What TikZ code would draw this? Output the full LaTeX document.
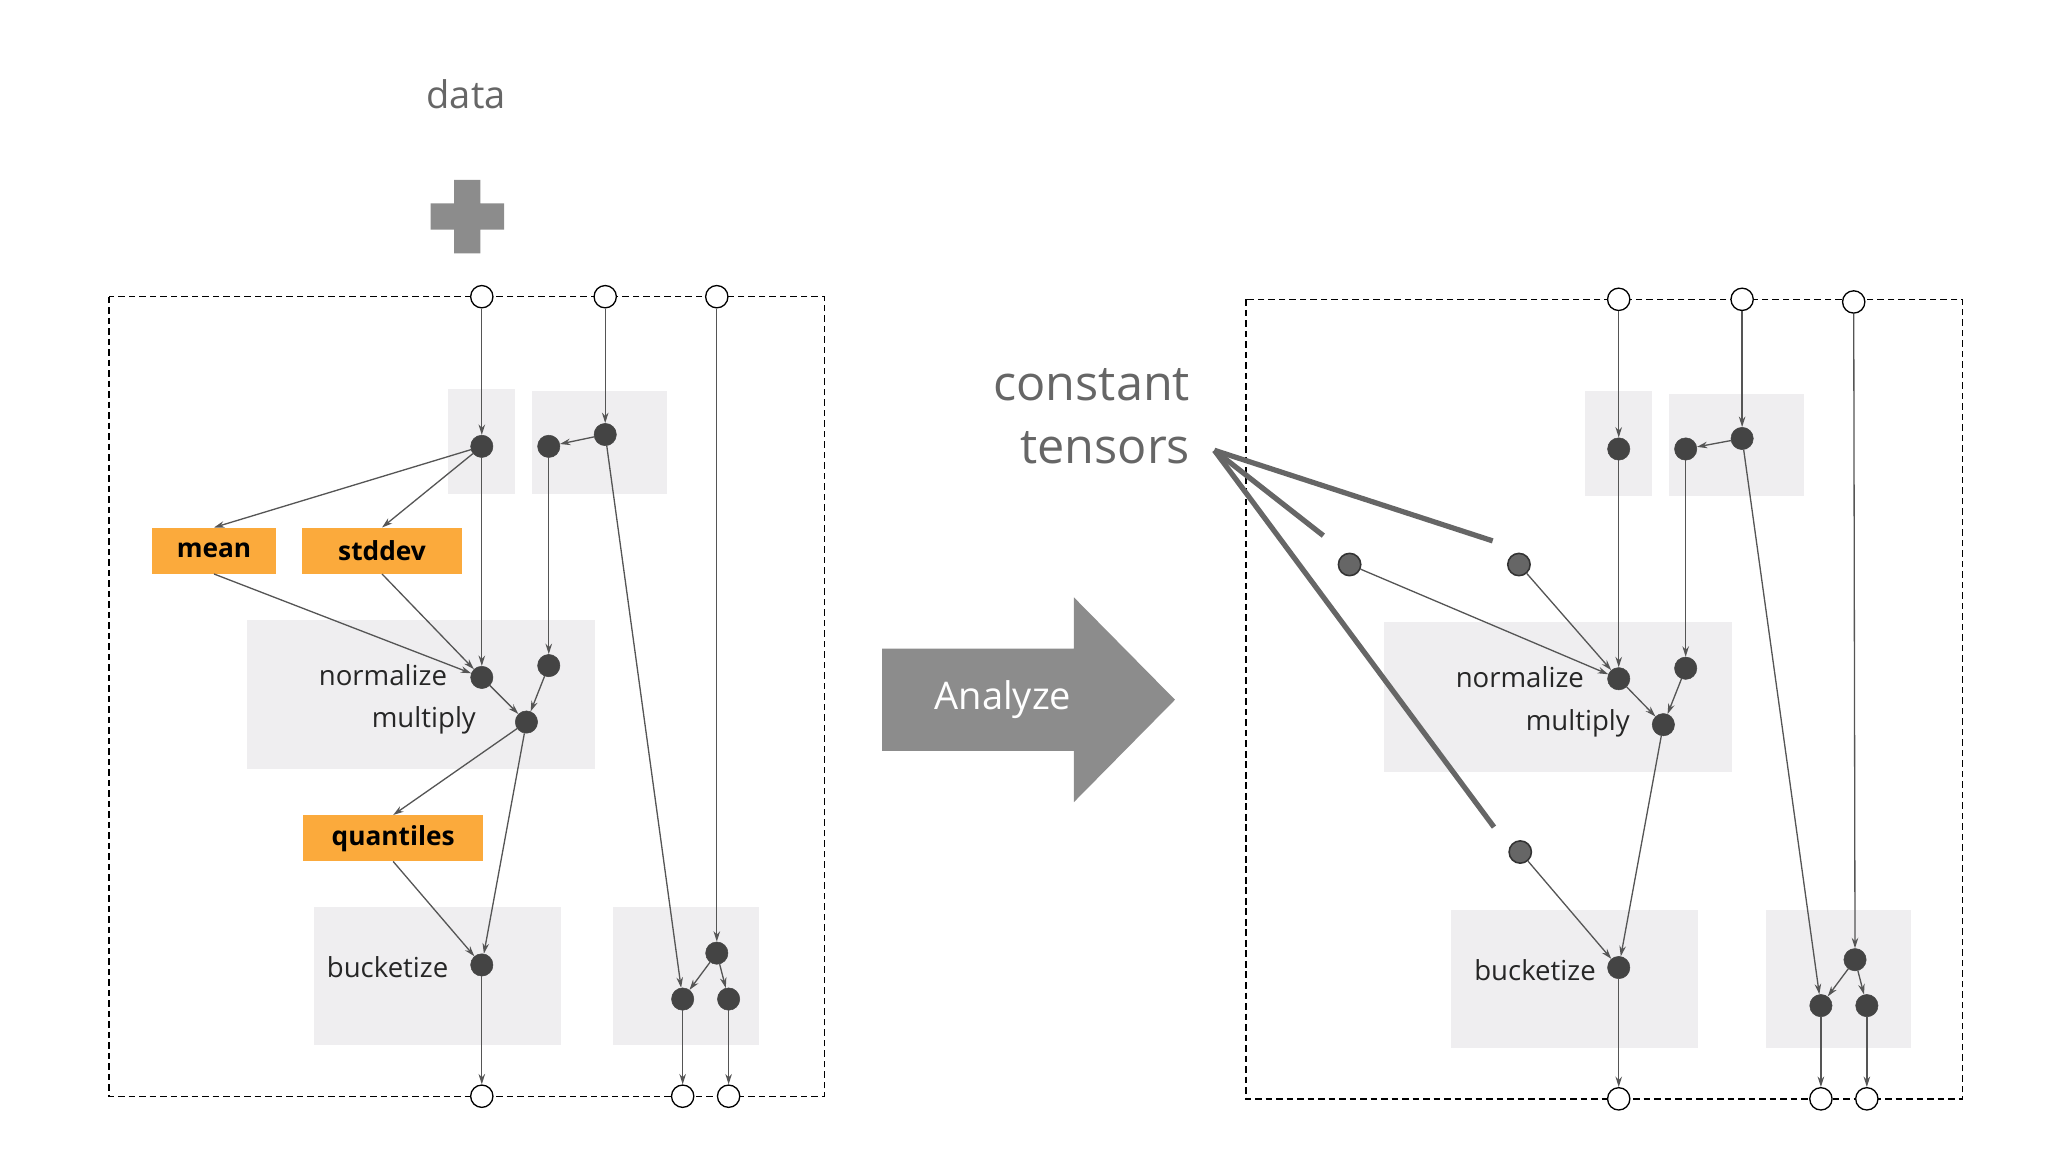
\documentclass[tikz,border=0pt]{standalone}
\usepackage{fontspec}
\setmainfont{Open Sans}
\usetikzlibrary{arrows.meta}
\definecolor{bg}{HTML}{EFEEF0}
\definecolor{org}{HTML}{FBAA3C}
\definecolor{ln}{HTML}{555555}
\definecolor{dk}{HTML}{444444}
\definecolor{tg}{HTML}{666666}
\begin{document}
\begin{tikzpicture}[x=1pt,y=-1pt,
  box/.style={fill=bg,draw=none},
  dot/.style={circle,fill=dk,draw=dk,inner sep=0,minimum size=17pt},
  cdot/.style={circle,fill=tg,draw=black!80,line width=1.2pt,inner sep=0,minimum size=17pt},
  port/.style={circle,fill=white,draw=black,line width=1pt,inner sep=0,minimum size=17pt},
  op/.style={fill=org,font=\fontsize{20}{24}\selectfont\bfseries,inner sep=0,anchor=center},
  lab/.style={font=\fontsize{21}{25}\selectfont,text=black!85},
  ar/.style={draw=ln,line width=1pt,-{Stealth[length=8pt,width=5pt]}},
  frame/.style={draw=black,dashed,line width=1pt,dash pattern=on 5pt off 3pt},
  thick/.style={draw=tg,line width=4pt}]
\useasboundingbox (0,0) rectangle (1560,877.5);
% ---------- left ----------
\node[font=\fontsize{29}{34}\selectfont,text=tg] (data) at (355,72) {data};
\fill[black!45] (346,137) rectangle (366,193) (328,155) rectangle (384,175);
\draw[frame] (83,226) rectangle (628,835);
\foreach \a/\b/\c/\d in {341/296/392/376,405/298/508/376,188/472/453/586,239/691/427/796,467/691/578/796}
  \fill[box] (\a,\b) rectangle (\c,\d);
\node[op,minimum width=94pt,minimum height=35pt] (mean) at (163,419.5) {mean};
\node[op,minimum width=122pt,minimum height=35pt] (std) at (291,419.5) {stddev};
\node[op,minimum width=137pt,minimum height=35pt] (q) at (299.5,638.5) {quantiles};
\node[port] (t1) at (367,226) {}; \node[port] (t2) at (461,226) {}; \node[port] (t3) at (546,226) {};
\node[port] (b1) at (367,835) {}; \node[port] (b2) at (520,835) {}; \node[port] (b3) at (555,835) {};
\node[dot] (A) at (367,340) {}; \node[dot] (B) at (418,340) {}; \node[dot] (C) at (461,331) {};
\node[dot] (D) at (367,516) {}; \node[dot] (E) at (418,507) {}; \node[dot] (F) at (401,550) {};
\node[dot] (G) at (367,735) {}; \node[dot] (H) at (546,726) {}; \node[dot] (I) at (520,761) {}; \node[dot] (J) at (555,761) {};
\node[lab,anchor=east] at (344,514) {normalize};
\node[lab,anchor=east] at (366,549) {multiply};
\node[lab,anchor=east] at (345,737) {bucketize};
\draw[ar] (t1)--(A); \draw[ar] (t2)--(C); \draw[ar] (t3)--(H);
\draw[ar] (C)--(B); \draw[ar] (A)--(mean.north); \draw[ar] (A)--(std.north);
\draw[ar] (B)--(E); \draw[ar] (A)--(D);
\draw[ar] (mean.south)--(D); \draw[ar] (std.south)--(D);
\draw[ar] (D)--(F); \draw[ar] (E)--(F);
\draw[ar] (F)--(q.north); \draw[ar] (q.south)--(G); \draw[ar] (F)--(G);
\draw[ar] (C)--(I); \draw[ar] (H)--(I); \draw[ar] (H)--(J);
\draw[ar] (G)--(b1); \draw[ar] (I)--(b2); \draw[ar] (J)--(b3);
% ---------- arrow ----------
\fill[black!45] (672,494)--(818,494)--(818,455)--(895,533)--(818,611)--(818,572)--(672,572)--cycle;
\node[font=\fontsize{29}{34}\selectfont,text=white] (an) at (764,533) {Analyze};
% ---------- right ----------
\node[font=\fontsize{37}{48}\selectfont,text=tg,align=right,anchor=east] (ct) at (910,317) {constant\\tensors};
\draw[frame] (949,228) rectangle (1495,837);
\foreach \a/\b/\c/\d in {1207/298/1258/378,1271/300/1374/378,1054/474/1319/588,1105/693/1293/798,1345/693/1456/798}
  \fill[box] (\a,\b) rectangle (\c,\d);
\node[port] (rt1) at (1233,228) {}; \node[port] (rt2) at (1327,228) {}; \node[port] (rt3) at (1412,230) {};
\node[port] (rb1) at (1233,837) {}; \node[port] (rb2) at (1387,837) {}; \node[port] (rb3) at (1422,837) {};
\node[dot] (rA) at (1233,342) {}; \node[dot] (rB) at (1284,342) {}; \node[dot] (rC) at (1327,334) {};
\node[dot] (rD) at (1233,517) {}; \node[dot] (rE) at (1284,509) {}; \node[dot] (rF) at (1267,552) {};
\node[dot] (rG) at (1233,737) {}; \node[dot] (rH) at (1413,731) {}; \node[dot] (rI) at (1387,766) {}; \node[dot] (rJ) at (1422,766) {};
\node[cdot] (k1) at (1028,430) {}; \node[cdot] (k2) at (1157,430) {}; \node[cdot] (k3) at (1158,649) {};
\node[lab,anchor=east] at (1210,516) {normalize};
\node[lab,anchor=east] at (1245,551) {multiply};
\node[lab,anchor=east] at (1219,739) {bucketize};
\draw[ar] (rt1)--(rA); \draw[ar] (rt2)--(rC); \draw[ar] (rt3)--(rH);
\draw[ar] (rC)--(rB); \draw[ar] (rB)--(rE); \draw[ar] (rA)--(rD);
\draw[ar] (k1)--(rD); \draw[ar] (k2)--(rD);
\draw[ar] (rD)--(rF); \draw[ar] (rE)--(rF);
\draw[ar] (k3)--(rG); \draw[ar] (rF)--(rG);
\draw[ar] (rC)--(rI); \draw[ar] (rH)--(rI); \draw[ar] (rH)--(rJ);
\draw[ar] (rG)--(rb1); \draw[ar] (rI)--(rb2); \draw[ar] (rJ)--(rb3);
\coordinate (o) at (925,343);
\coordinate (e1) at (1137,412); \coordinate (e2) at (1008,408); \coordinate (e3) at (1138,630);
\draw[thick] (o)--(e1); \draw[thick] (o)--(e2); \draw[thick] (o)--(e3);
\end{tikzpicture}
\end{document}
